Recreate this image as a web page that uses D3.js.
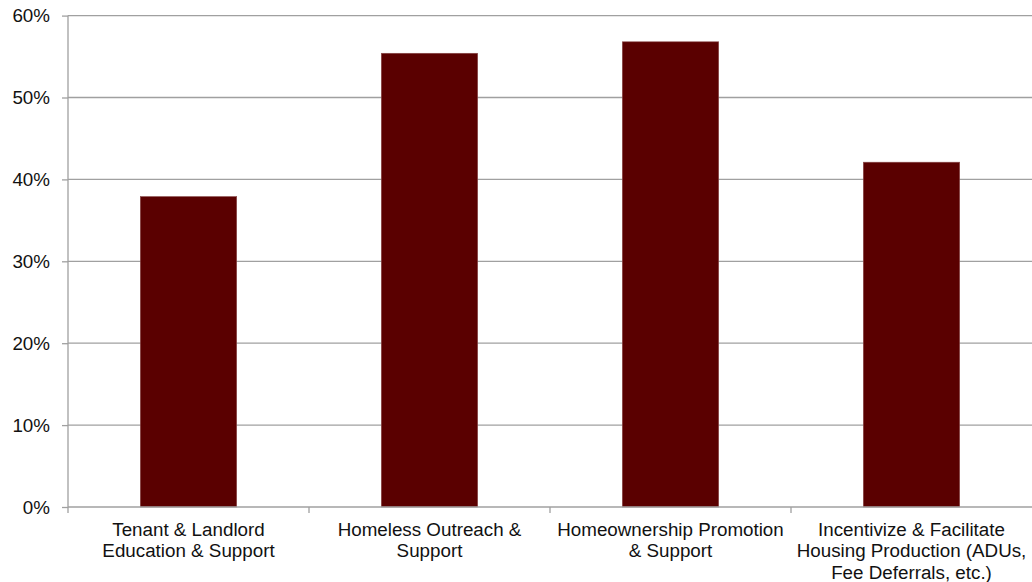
<!DOCTYPE html>
<html><head><meta charset="utf-8">
<script src="https://cdn.jsdelivr.net/npm/d3@7"></script>
<style>body{margin:0;background:#fff}svg{display:block}text{font-family:"Liberation Sans",Arial,sans-serif;fill:#111}</style>
</head><body><svg id="c" width="1032" height="582"></svg>
<script>
const categories = [
  ["Tenant & Landlord", "Education & Support"],
  ["Homeless Outreach &", "Support"],
  ["Homeownership Promotion", "& Support"],
  ["Incentivize & Facilitate", "Housing Production (ADUs,", "Fee Deferrals, etc.)"]
];
const values = [0.379, 0.554, 0.568, 0.421];
const yTicks = [0, 0.1, 0.2, 0.3, 0.4, 0.5, 0.6];

const svg = d3.select("#c");
const m = {l: 68, r: 0, t: 15.6, b: 75};
const W = 1032, H = 582;
const x = d3.scaleBand().domain(d3.range(categories.length)).range([m.l, W - m.r]).paddingInner(0).paddingOuter(0);
const y = d3.scaleLinear().domain([0, 0.6]).range([507, m.t]);
const fs = "18.8px";

const grid = "#a0a0a0";
svg.append("g").selectAll("line").data(yTicks.filter(d => d > 0)).join("line")
  .attr("x1", m.l).attr("x2", W).attr("y1", d => y(d)).attr("y2", d => y(d))
  .attr("stroke", grid).attr("stroke-width", 1.3);

const bw = x.bandwidth() * 0.4;
svg.append("g").selectAll("rect").data(values).join("rect")
  .attr("x", (d, i) => x(i) + (x.bandwidth() - bw) / 2)
  .attr("width", bw)
  .attr("y", d => y(d)).attr("height", d => y(0) - y(d))
  .attr("fill", "#5a0000").attr("stroke", "#8a4a4a").attr("stroke-width", 0.6);

const ya = svg.append("g").attr("transform", `translate(${m.l},0)`)
  .call(d3.axisLeft(y).tickValues(yTicks).tickFormat(d3.format(".0%")).tickSize(6).tickPadding(12));
ya.select(".domain").attr("stroke", grid).attr("stroke-width", 1.3).attr("d", `M-0,${y(0.6)}V${y(0)}`);
ya.selectAll(".tick line").attr("stroke", grid).attr("stroke-width", 1.3);
ya.selectAll(".tick text").attr("font-size", fs).attr("fill", "#111").attr("font-family", '"Liberation Sans",Arial,sans-serif');

const xa = svg.append("g").attr("transform", `translate(0,${y(0)})`)
  .call(d3.axisBottom(x).tickSize(0).tickFormat(""));
xa.select(".domain").attr("stroke", grid).attr("stroke-width", 1.3).attr("d", `M${m.l},0H${W}`);
xa.selectAll(".tick").remove();
const bounds = d3.range(categories.length + 1).map(i => m.l + i * x.bandwidth());
xa.selectAll("line.b").data(bounds.slice(0, -1)).join("line").attr("class", "b")
  .attr("x1", d => d).attr("x2", d => d).attr("y1", 0).attr("y2", 6)
  .attr("stroke", grid).attr("stroke-width", 1.3);

const lab = svg.append("g");
categories.forEach((lines, i) => {
  const t = lab.append("text").attr("x", x(i) + x.bandwidth() / 2).attr("y", 535.5)
    .attr("text-anchor", "middle").attr("font-size", fs);
  lines.forEach((s, k) => t.append("tspan").attr("x", x(i) + x.bandwidth() / 2).attr("dy", k ? 21.5 : 0).text(s));
});
</script></body></html>
